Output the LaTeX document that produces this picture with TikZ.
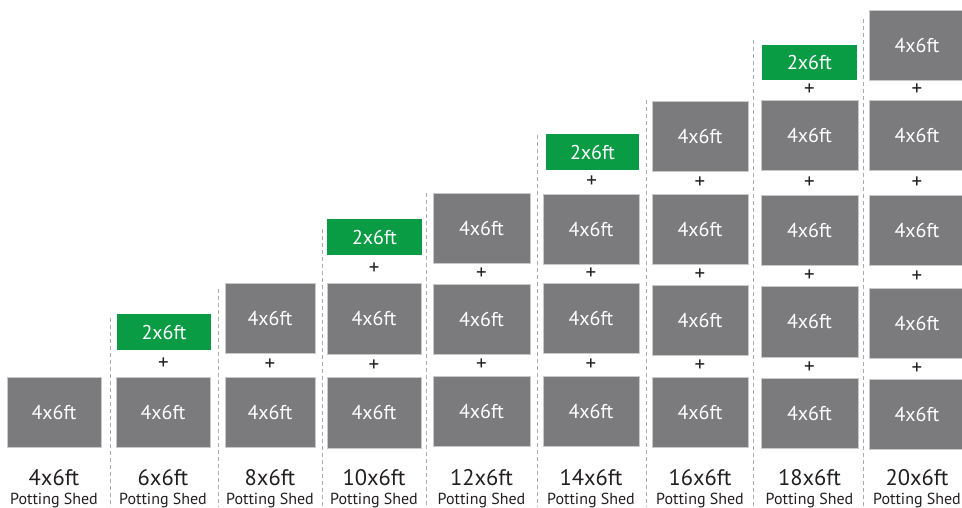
\documentclass[tikz,border=0pt]{standalone}
\usepackage{fontspec}
\setmainfont{PT Sans}
\definecolor{shedgray}{HTML}{7B7B7D}
\definecolor{shedgreen}{HTML}{0A9B45}
\definecolor{edgegray}{HTML}{C9C9C9}
\definecolor{dividergray}{HTML}{ABABAB}
\definecolor{inktext}{HTML}{231F20}

\tikzset{
  unit/.style={rectangle, fill=shedgray, draw=edgegray, line width=0.7pt,
    text=white, inner sep=0pt, font=\fontsize{20}{20}\selectfont},
  half/.style={unit, fill=shedgreen, draw=none},
  joiner/.style={inner sep=0pt, text=inktext, font=\fontsize{21}{21}\selectfont},
  sizelabel/.style={anchor=base, inner sep=0pt, text=inktext, font=\fontsize{22.5}{22.5}\selectfont},
  kindlabel/.style={anchor=base, inner sep=0pt, text=inktext, font=\fontsize{16}{16}\selectfont},
  divider/.style={draw=dividergray, line width=1pt, dash pattern=on 4pt off 3pt}
}

% \slab{style}{name}{left}{top}{right}{bottom}
\newcommand\slab[6]{%
  \node[#1, minimum width=#5pt-#3pt, minimum height=#6pt-#4pt]
    (#2) at ({(#3+#5)/2},{(#4+#6)/2}) {\slabtext{#1}};}
\newcommand\slabtext[1]{\csname slabtext@#1\endcsname}
\expandafter\def\csname slabtext@unit\endcsname{4x6ft}
\expandafter\def\csname slabtext@half\endcsname{2x6ft}

% \joinbetween{name}{upper}{lower}
\newcommand\joinbetween[3]{\node[joiner] (#1) at ($(#2.south)!0.5!(#3.north)$) {+};}

% \shedlabel{name}{x}{size}
\newcommand\shedlabel[3]{%
  \node[sizelabel] (#1s) at (#2,485) {#3};
  \node[kindlabel] (#1k) at (#2,504) {Potting Shed};}

\usetikzlibrary{calc}

\begin{document}
\begin{tikzpicture}[x=1pt, y=-1pt]
  \useasboundingbox (0,0) rectangle (962,507);

  % column dividers
  \foreach \dx/\dy in {110/318, 218/289, 322/229, 426/193, 537/135, 646/100, 753/40, 863/19}
    \draw[divider] (\dx,\dy) -- (\dx,507);

  % 4x6ft
  \slab{unit}{a1}{7}{377}{101}{447}
  \shedlabel{la}{54}{4x6ft}

  % 6x6ft
  \slab{half}{b0}{117}{314}{211}{350}
  \slab{unit}{b1}{116}{377}{210}{447}
  \joinbetween{bp1}{b0}{b1}
  \shedlabel{lb}{163}{6x6ft}

  % 8x6ft
  \slab{unit}{c2}{225}{283}{315}{353}
  \slab{unit}{c1}{225}{377}{315}{447}
  \joinbetween{cp1}{c2}{c1}
  \shedlabel{lc}{270}{8x6ft}

  % 10x6ft
  \slab{half}{d0}{327}{219}{422}{255}
  \slab{unit}{d2}{327}{283}{421}{354}
  \slab{unit}{d1}{327}{377}{421}{448}
  \joinbetween{dp2}{d0}{d2}
  \joinbetween{dp1}{d2}{d1}
  \shedlabel{ld}{374}{10x6ft}

  % 12x6ft
  \slab{unit}{e3}{433}{193}{530}{263}
  \slab{unit}{e2}{433}{284}{530}{354}
  \slab{unit}{e1}{433}{376}{530}{446}
  \joinbetween{ep2}{e3}{e2}
  \joinbetween{ep1}{e2}{e1}
  \shedlabel{le}{481.5}{12x6ft}

  % 14x6ft
  \slab{half}{f0}{546}{134}{639}{170}
  \slab{unit}{f3}{543}{194}{639}{264}
  \slab{unit}{f2}{543}{283}{639}{353}
  \slab{unit}{f1}{543}{376}{639}{446}
  \joinbetween{fp3}{f0}{f3}
  \joinbetween{fp2}{f3}{f2}
  \joinbetween{fp1}{f2}{f1}
  \shedlabel{lf}{591}{14x6ft}

  % 16x6ft
  \slab{unit}{g4}{652}{101}{748}{171}
  \slab{unit}{g3}{652}{194}{748}{264}
  \slab{unit}{g2}{652}{285}{748}{355}
  \slab{unit}{g1}{652}{377}{748}{447}
  \joinbetween{gp3}{g4}{g3}
  \joinbetween{gp2}{g3}{g2}
  \joinbetween{gp1}{g2}{g1}
  \shedlabel{lg}{700}{16x6ft}

  % 18x6ft
  \slab{half}{h0}{762}{45}{857}{80}
  \slab{unit}{h4}{761}{100}{858}{170}
  \slab{unit}{h3}{761}{195}{858}{265}
  \slab{unit}{h2}{761}{286}{858}{357}
  \slab{unit}{h1}{761}{378}{858}{448}
  \joinbetween{hp4}{h0}{h4}
  \joinbetween{hp3}{h4}{h3}
  \joinbetween{hp2}{h3}{h2}
  \joinbetween{hp1}{h2}{h1}
  \shedlabel{lh}{809.5}{18x6ft}

  % 20x6ft
  \slab{unit}{i5}{869}{10}{965}{80}
  \slab{unit}{i4}{869}{100}{965}{170}
  \slab{unit}{i3}{869}{195}{965}{265}
  \slab{unit}{i2}{869}{288}{965}{358}
  \slab{unit}{i1}{869}{379}{965}{449}
  \joinbetween{ip4}{i5}{i4}
  \joinbetween{ip3}{i4}{i3}
  \joinbetween{ip2}{i3}{i2}
  \joinbetween{ip1}{i2}{i1}
  \shedlabel{li}{917}{20x6ft}
\end{tikzpicture}
\end{document}
